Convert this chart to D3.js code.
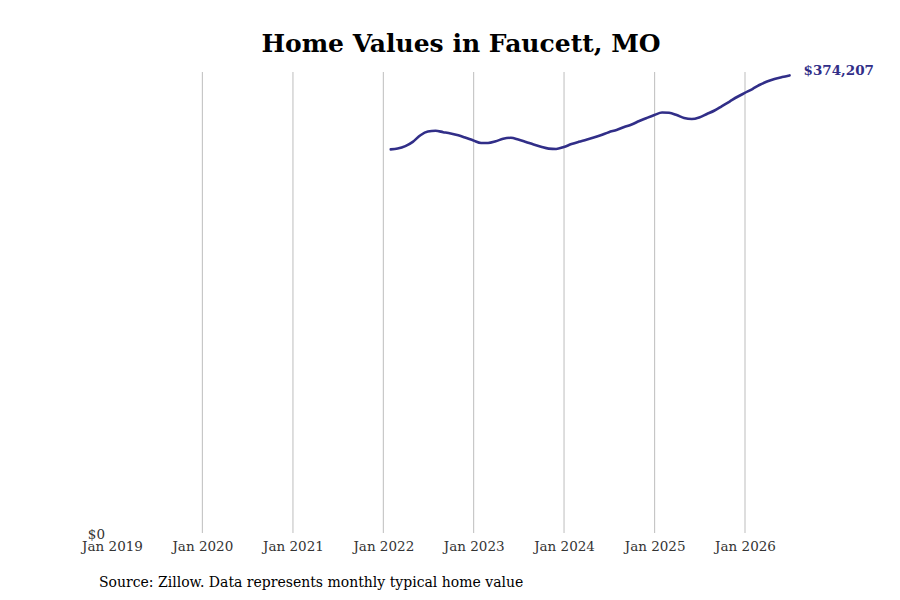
<!DOCTYPE html>
<html lang="en">
<head>
<meta charset="utf-8">
<title>Home Values in Faucett, MO</title>
<script src="https://d3js.org/d3.v7.min.js"></script>
<style type="text/css">
body { margin: 0; background: #fff; }
text { font-family: "DejaVu Serif", serif; }
</style>
</head>
<body>
<div id="chart"></div>
<script>
// monthly typical home value (Zillow), Jan 2022 - Jun 2026
var months = [
  "2022-01","2022-02","2022-03","2022-04","2022-05","2022-06","2022-07","2022-08","2022-09","2022-10","2022-11","2022-12",
  "2023-01","2023-02","2023-03","2023-04","2023-05","2023-06","2023-07","2023-08","2023-09","2023-10","2023-11","2023-12",
  "2024-01","2024-02","2024-03","2024-04","2024-05","2024-06","2024-07","2024-08","2024-09","2024-10","2024-11","2024-12",
  "2025-01","2025-02","2025-03","2025-04","2025-05","2025-06","2025-07","2025-08","2025-09","2025-10","2025-11","2025-12",
  "2026-01","2026-02","2026-03","2026-04","2026-05","2026-06"
];
var values = [
  313900, 314500, 316500, 320000, 325400, 328400, 329000, 327900, 326800, 325300, 323300, 321100,
  319100, 319100, 320500, 322500, 323300, 321900, 319900, 317800, 316000, 314500, 314200, 315800,
  318200, 320000, 321700, 323500, 325600, 327900, 329700, 332100, 334200, 337000, 339500, 341900,
  343900, 343700, 341900, 339500, 338600, 339900, 342700, 345600, 349200, 352900, 356600, 359900,
  363100, 366400, 369200, 371300, 372900, 374207
];
var yTicks = [0];
var title = "Home Values in Faucett, MO";
var source = "Source: Zillow. Data represents monthly typical home value";

var width = 900, height = 600;
var margin = {top: 72, bottom: 66, left: 112};

var parseMonth = d3.timeParse("%Y-%m");
// values are reported at the end of each month
var data = months.map(function(m, i) {
  var d = d3.timeDay.offset(d3.timeMonth.offset(parseMonth(m), 1), -1);
  return {date: d, value: values[i]};
});

var svg = d3.select("#chart")
  .append("svg")
    .attr("width", width)
    .attr("height", height);

var x = d3.scaleTime()
  .domain([new Date(2019, 0, 1), new Date(2026, 0, 1)])
  .range([margin.left, 745]);

var y = d3.scaleLinear()
  .domain([0, 377000])
  .range([height - margin.bottom, margin.top]);

// vertical grid lines (none on the first tick)
var xTicks = x.ticks(d3.timeYear.every(1));
svg.append("g")
  .selectAll("line")
  .data(xTicks.slice(1))
  .enter()
  .append("line")
    .attr("x1", function(d) { return x(d); })
    .attr("x2", function(d) { return x(d); })
    .attr("y1", margin.top)
    .attr("y2", y(0) - 1)
    .attr("stroke", "#bdbdbd")
    .attr("stroke-width", 1);

// x axis
var xAxis = svg.append("g")
  .attr("transform", "translate(0," + (y(0) + 4) + ")")
  .call(d3.axisBottom(x).tickValues(xTicks).tickSize(0).tickFormat(d3.timeFormat("Jan %Y")));
xAxis.select(".domain").remove();
xAxis.selectAll("text")
  .attr("font-family", "DejaVu Serif")
  .attr("font-size", 13.5)
  .attr("fill", "#333");

// y axis
var yAxis = svg.append("g")
  .attr("transform", "translate(" + (margin.left - 4) + ",0)")
  .call(d3.axisLeft(y).tickValues(yTicks).tickSize(0).tickFormat(function(d) { return "$" + d3.format(",")(d); }));
yAxis.select(".domain").remove();
yAxis.selectAll("text")
  .attr("font-family", "DejaVu Serif")
  .attr("font-size", 13.5)
  .attr("fill", "#333");

// line
var line = d3.line()
  .x(function(d) { return x(d.date); })
  .y(function(d) { return y(d.value); })
  .curve(d3.curveMonotoneX);

svg.append("path")
  .datum(data)
  .attr("fill", "none")
  .attr("stroke", "#312e88")
  .attr("stroke-width", 2.6)
  .attr("stroke-linecap", "round")
  .attr("d", line);

// end label
var last = data[data.length - 1];
svg.append("text")
  .attr("x", x(last.date) + 14)
  .attr("y", y(last.value))
  .attr("dy", "-0.05em")
  .attr("font-size", 13.5)
  .attr("font-weight", "bold")
  .attr("fill", "#312e88")
  .text("$" + d3.format(",")(last.value));

// title
svg.append("text")
  .attr("x", 461)
  .attr("y", 52)
  .attr("text-anchor", "middle")
  .attr("font-size", 25)
  .attr("font-weight", "bold")
  .attr("fill", "#000")
  .text(title);

// source note
svg.append("text")
  .attr("x", 99)
  .attr("y", 587)
  .attr("font-size", 14)
  .attr("fill", "#000")
  .text(source);
</script>
</body>
</html>
